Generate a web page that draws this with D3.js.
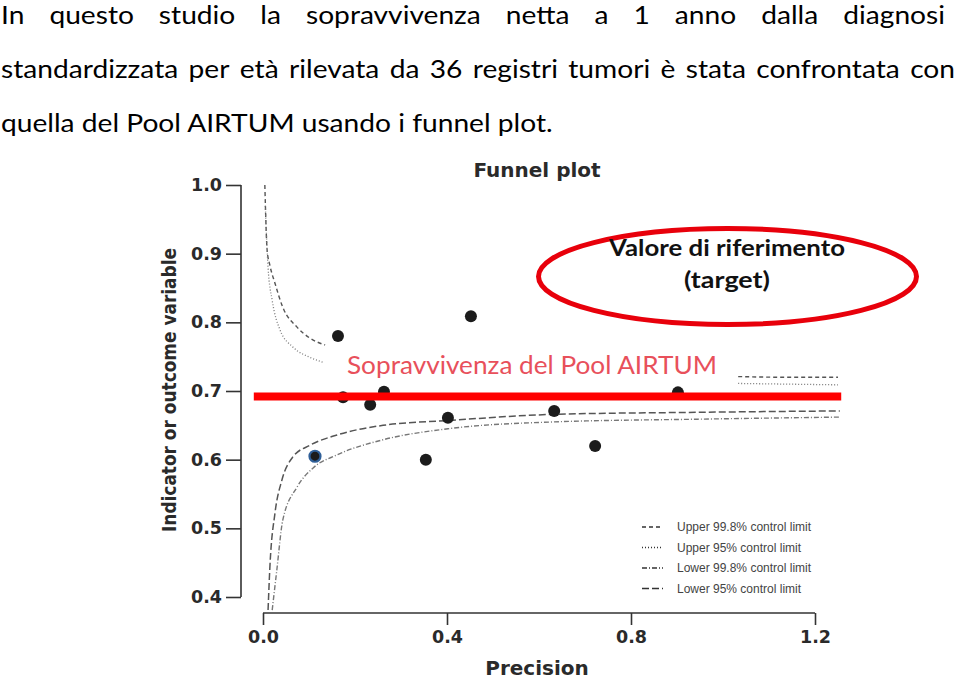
<!DOCTYPE html>
<html>
<head>
<meta charset="utf-8">
<script src="https://cdn.jsdelivr.net/npm/d3@7"></script>
<style>
  html, body { margin: 0; padding: 0; background: #fff; }
  svg { display: block; }
</style>
</head>
<body>
<script>
(function () {
    'use strict';

    // --- data ---
    const introLines = [
        "In questo studio la sopravvivenza netta a 1 anno dalla diagnosi",
        "standardizzata per età rilevata da 36 registri tumori è stata confrontata con",
        "quella del Pool AIRTUM usando i funnel plot."
    ];

    const xTicks = [0.0, 0.4, 0.8, 1.2];
    const yTicks = [0.4, 0.5, 0.6, 0.7, 0.8, 0.9, 1.0];

    // registries (precision, 1-year net survival)
    const precision = [0.163, 0.174, 0.233, 0.263, 0.452, 0.402, 0.354, 0.633, 0.722, 0.902];
    const survival  = [0.780, 0.691, 0.680, 0.699, 0.809, 0.661, 0.600, 0.671, 0.620, 0.698];
    // highlighted registry (blue ring)
    const highlightPrecision = 0.113;
    const highlightSurvival = 0.605;

    const target = 0.692;

    // control limits, visible parts only
    const upper998Left  = [[0.004, 1.000], [0.009, 0.905], [0.015, 0.883], [0.026, 0.857], [0.043, 0.822], [0.074, 0.793], [0.102, 0.777], [0.135, 0.767]];
    const upper998Right = [[1.033, 0.721], [1.14, 0.720], [1.25, 0.720]];
    const upper95Left   = [[0.005, 0.970], [0.011, 0.880], [0.020, 0.832], [0.037, 0.789], [0.065, 0.764], [0.102, 0.749], [0.130, 0.742]];
    const upper95Right  = [[1.033, 0.711], [1.14, 0.710], [1.25, 0.709]];
    const lower998 = [[0.020, 0.381], [0.030, 0.439], [0.043, 0.512], [0.074, 0.560], [0.109, 0.588], [0.161, 0.607], [0.261, 0.629], [0.402, 0.645], [0.633, 0.655], [0.950, 0.659], [1.254, 0.662]];
    const lower95  = [[0.011, 0.381], [0.015, 0.444], [0.026, 0.522], [0.041, 0.570], [0.065, 0.604], [0.102, 0.621], [0.161, 0.636], [0.261, 0.650], [0.402, 0.657], [0.633, 0.666], [0.950, 0.669], [1.254, 0.671]];

    const legendLabels = [
        "Upper 99.8% control limit",
        "Upper 95% control limit",
        "Lower 99.8% control limit",
        "Lower 95% control limit"
    ];

    const annotationLabel = "Sopravvivenza del Pool AIRTUM";
    const targetLabel = ["Valore di riferimento", "(target)"];

    // --- drawing ---
    const width = 959;
    const height = 683;

    const svg = d3.select('body')
        .append('svg')
        .attr('width', width)
        .attr('height', height);

    // intro paragraph, justified like the slide (Calibri-like, so squeeze Lato a bit)
    const introFont = "Lato, 'Open Sans', sans-serif";
    const introSize = 25;
    const baselines = [24, 78, 132];
    const rightEdges = [945, 955, null];

    const measure = svg.append('text')
        .attr('font-family', introFont)
        .attr('font-size', introSize)
        .text(introLines[2]);
    const sx = 552 / measure.node().getComputedTextLength();
    measure.remove();

    const intro = svg.append('g').attr('transform', `scale(${sx},1)`);
    introLines.forEach((line, i) => {
        if (rightEdges[i] == null) {
            intro.append('text')
                .attr('x', 1 / sx)
                .attr('y', baselines[i])
                .attr('font-family', introFont)
                .attr('font-size', introSize)
                .attr('fill', '#000')
                .text(line);
            return;
        }
        const words = line.split(' ');
        const nodes = words.map(w => intro.append('text')
            .attr('y', baselines[i])
            .attr('font-family', introFont)
            .attr('font-size', introSize)
            .attr('fill', '#000')
            .text(w));
        const widths = nodes.map(n => n.node().getComputedTextLength());
        const gap = ((rightEdges[i] - 1) / sx - d3.sum(widths)) / (words.length - 1);
        let xx = 1 / sx;
        nodes.forEach((n, k) => {
            n.attr('x', xx);
            xx += widths[k] + gap;
        });
    });

    // chart
    const x = d3.scaleLinear().domain([0, 1.2]).range([263, 815]);
    const y = d3.scaleLinear().domain([0.4, 1.0]).range([597, 185]);

    const axisFont = "'DejaVu Sans', sans-serif";

    const yAxis = svg.append('g')
        .attr('transform', 'translate(241,0)')
        .call(d3.axisLeft(y).tickValues(yTicks).tickFormat(d3.format('.1f')).tickSize(15).tickPadding(4));
    const xAxis = svg.append('g')
        .attr('transform', 'translate(0,613)')
        .call(d3.axisBottom(x).tickValues(xTicks).tickFormat(d3.format('.1f')).tickSize(12).tickPadding(6));

    [yAxis, xAxis].forEach(a => {
        a.select('.domain').attr('stroke', '#333').attr('stroke-width', 1.6);
        a.selectAll('.tick line').attr('stroke', '#333').attr('stroke-width', 1.6);
        a.selectAll('.tick text')
            .attr('font-family', axisFont)
            .attr('font-weight', 'bold')
            .attr('font-size', 17.5)
            .attr('fill', '#2a2a2a');
    });
    // R style axis lines: no end caps
    yAxis.select('.domain').attr('d', `M0,${y(0.4)}V${y(1.0)}`);
    xAxis.select('.domain').attr('d', `M${x(0)},0H${x(1.2)}`);

    svg.append('text')
        .attr('x', 537).attr('y', 177)
        .attr('text-anchor', 'middle')
        .attr('font-family', axisFont).attr('font-weight', 'bold').attr('font-size', 20)
        .attr('fill', '#2a2a2a')
        .text('Funnel plot');

    svg.append('text')
        .attr('x', 537).attr('y', 675)
        .attr('text-anchor', 'middle')
        .attr('font-family', axisFont).attr('font-weight', 'bold').attr('font-size', 20)
        .attr('fill', '#2a2a2a')
        .text('Precision');

    svg.append('text')
        .attr('transform', 'translate(176,390) rotate(-90)')
        .attr('text-anchor', 'middle')
        .attr('font-family', axisFont).attr('font-weight', 'bold').attr('font-size', 19)
        .attr('textLength', 284).attr('lengthAdjust', 'spacingAndGlyphs')
        .attr('fill', '#2a2a2a')
        .text('Indicator or outcome variable');

    // control limits
    const line = d3.line()
        .x(d => x(d[0]))
        .y(d => y(d[1]))
        .curve(d3.curveMonotoneX);

    const styles = {
        u998: {dash: '4,3', stroke: '#555', w: 1.4},
        u95: {dash: '1,2', stroke: '#777', w: 1.3},
        l998: {dash: '5,2,1,2', stroke: '#777', w: 1.4},
        l95: {dash: '7,3', stroke: '#555', w: 1.5}
    };

    const curves = [
        [upper998Left, 'u998'], [upper998Right, 'u998'],
        [upper95Left, 'u95'], [upper95Right, 'u95'],
        [lower998, 'l998'], [lower95, 'l95']
    ];

    svg.append('g').selectAll('path')
        .data(curves)
        .enter().append('path')
        .attr('d', d => line(d[0]))
        .attr('fill', 'none')
        .attr('stroke', d => styles[d[1]].stroke)
        .attr('stroke-width', d => styles[d[1]].w)
        .attr('stroke-dasharray', d => styles[d[1]].dash);

    // registries
    svg.append('g').selectAll('circle')
        .data(d3.range(precision.length))
        .enter().append('circle')
        .attr('cx', i => x(precision[i]))
        .attr('cy', i => y(survival[i]))
        .attr('r', 6)
        .attr('fill', '#1c1c1c');

    svg.append('circle')
        .attr('cx', x(highlightPrecision))
        .attr('cy', y(highlightSurvival))
        .attr('r', 5.5)
        .attr('fill', '#1c1c1c')
        .attr('stroke', '#2f5f98')
        .attr('stroke-width', 2.2);

    // pool reference line
    svg.append('line')
        .attr('x1', x(-0.02)).attr('x2', x(1.257))
        .attr('y1', y(target)).attr('y2', y(target))
        .attr('stroke', '#ff0000')
        .attr('stroke-width', 8);

    svg.append('text')
        .attr('x', 532).attr('y', 374)
        .attr('text-anchor', 'middle')
        .attr('font-family', introFont).attr('font-size', 25)
        .attr('textLength', 370).attr('lengthAdjust', 'spacingAndGlyphs')
        .attr('fill', '#e8505b')
        .text(annotationLabel);

    // legend
    const legendKeys = ['u998', 'u95', 'l998', 'l95'];
    const legend = svg.append('g');
    legendLabels.forEach((lab, i) => {
        const ly = 527 + i * 20.5;
        legend.append('line')
            .attr('x1', 642).attr('x2', 663)
            .attr('y1', ly).attr('y2', ly)
            .attr('stroke', '#333')
            .attr('stroke-width', 1.3)
            .attr('stroke-dasharray', styles[legendKeys[i]].dash);
        legend.append('text')
            .attr('x', 677).attr('y', ly + 4)
            .attr('font-family', "'Liberation Sans', Arial, sans-serif")
            .attr('font-size', 12)
            .attr('fill', '#444')
            .text(lab);
    });

    // target ellipse
    svg.append('ellipse')
        .attr('cx', 727.5).attr('cy', 276.5)
        .attr('rx', 189).attr('ry', 48)
        .attr('fill', 'none')
        .attr('stroke', '#e8000b')
        .attr('stroke-width', 5);

    const targetWidths = [236, 86];
    targetLabel.forEach((t, i) => {
        svg.append('text')
            .attr('x', 727).attr('y', 256 + i * 32)
            .attr('text-anchor', 'middle')
            .attr('font-family', introFont).attr('font-weight', 'bold').attr('font-size', 23)
            .attr('textLength', targetWidths[i]).attr('lengthAdjust', 'spacingAndGlyphs')
            .attr('fill', '#111')
            .text(t);
    });

}());
</script>
</body>
</html>
